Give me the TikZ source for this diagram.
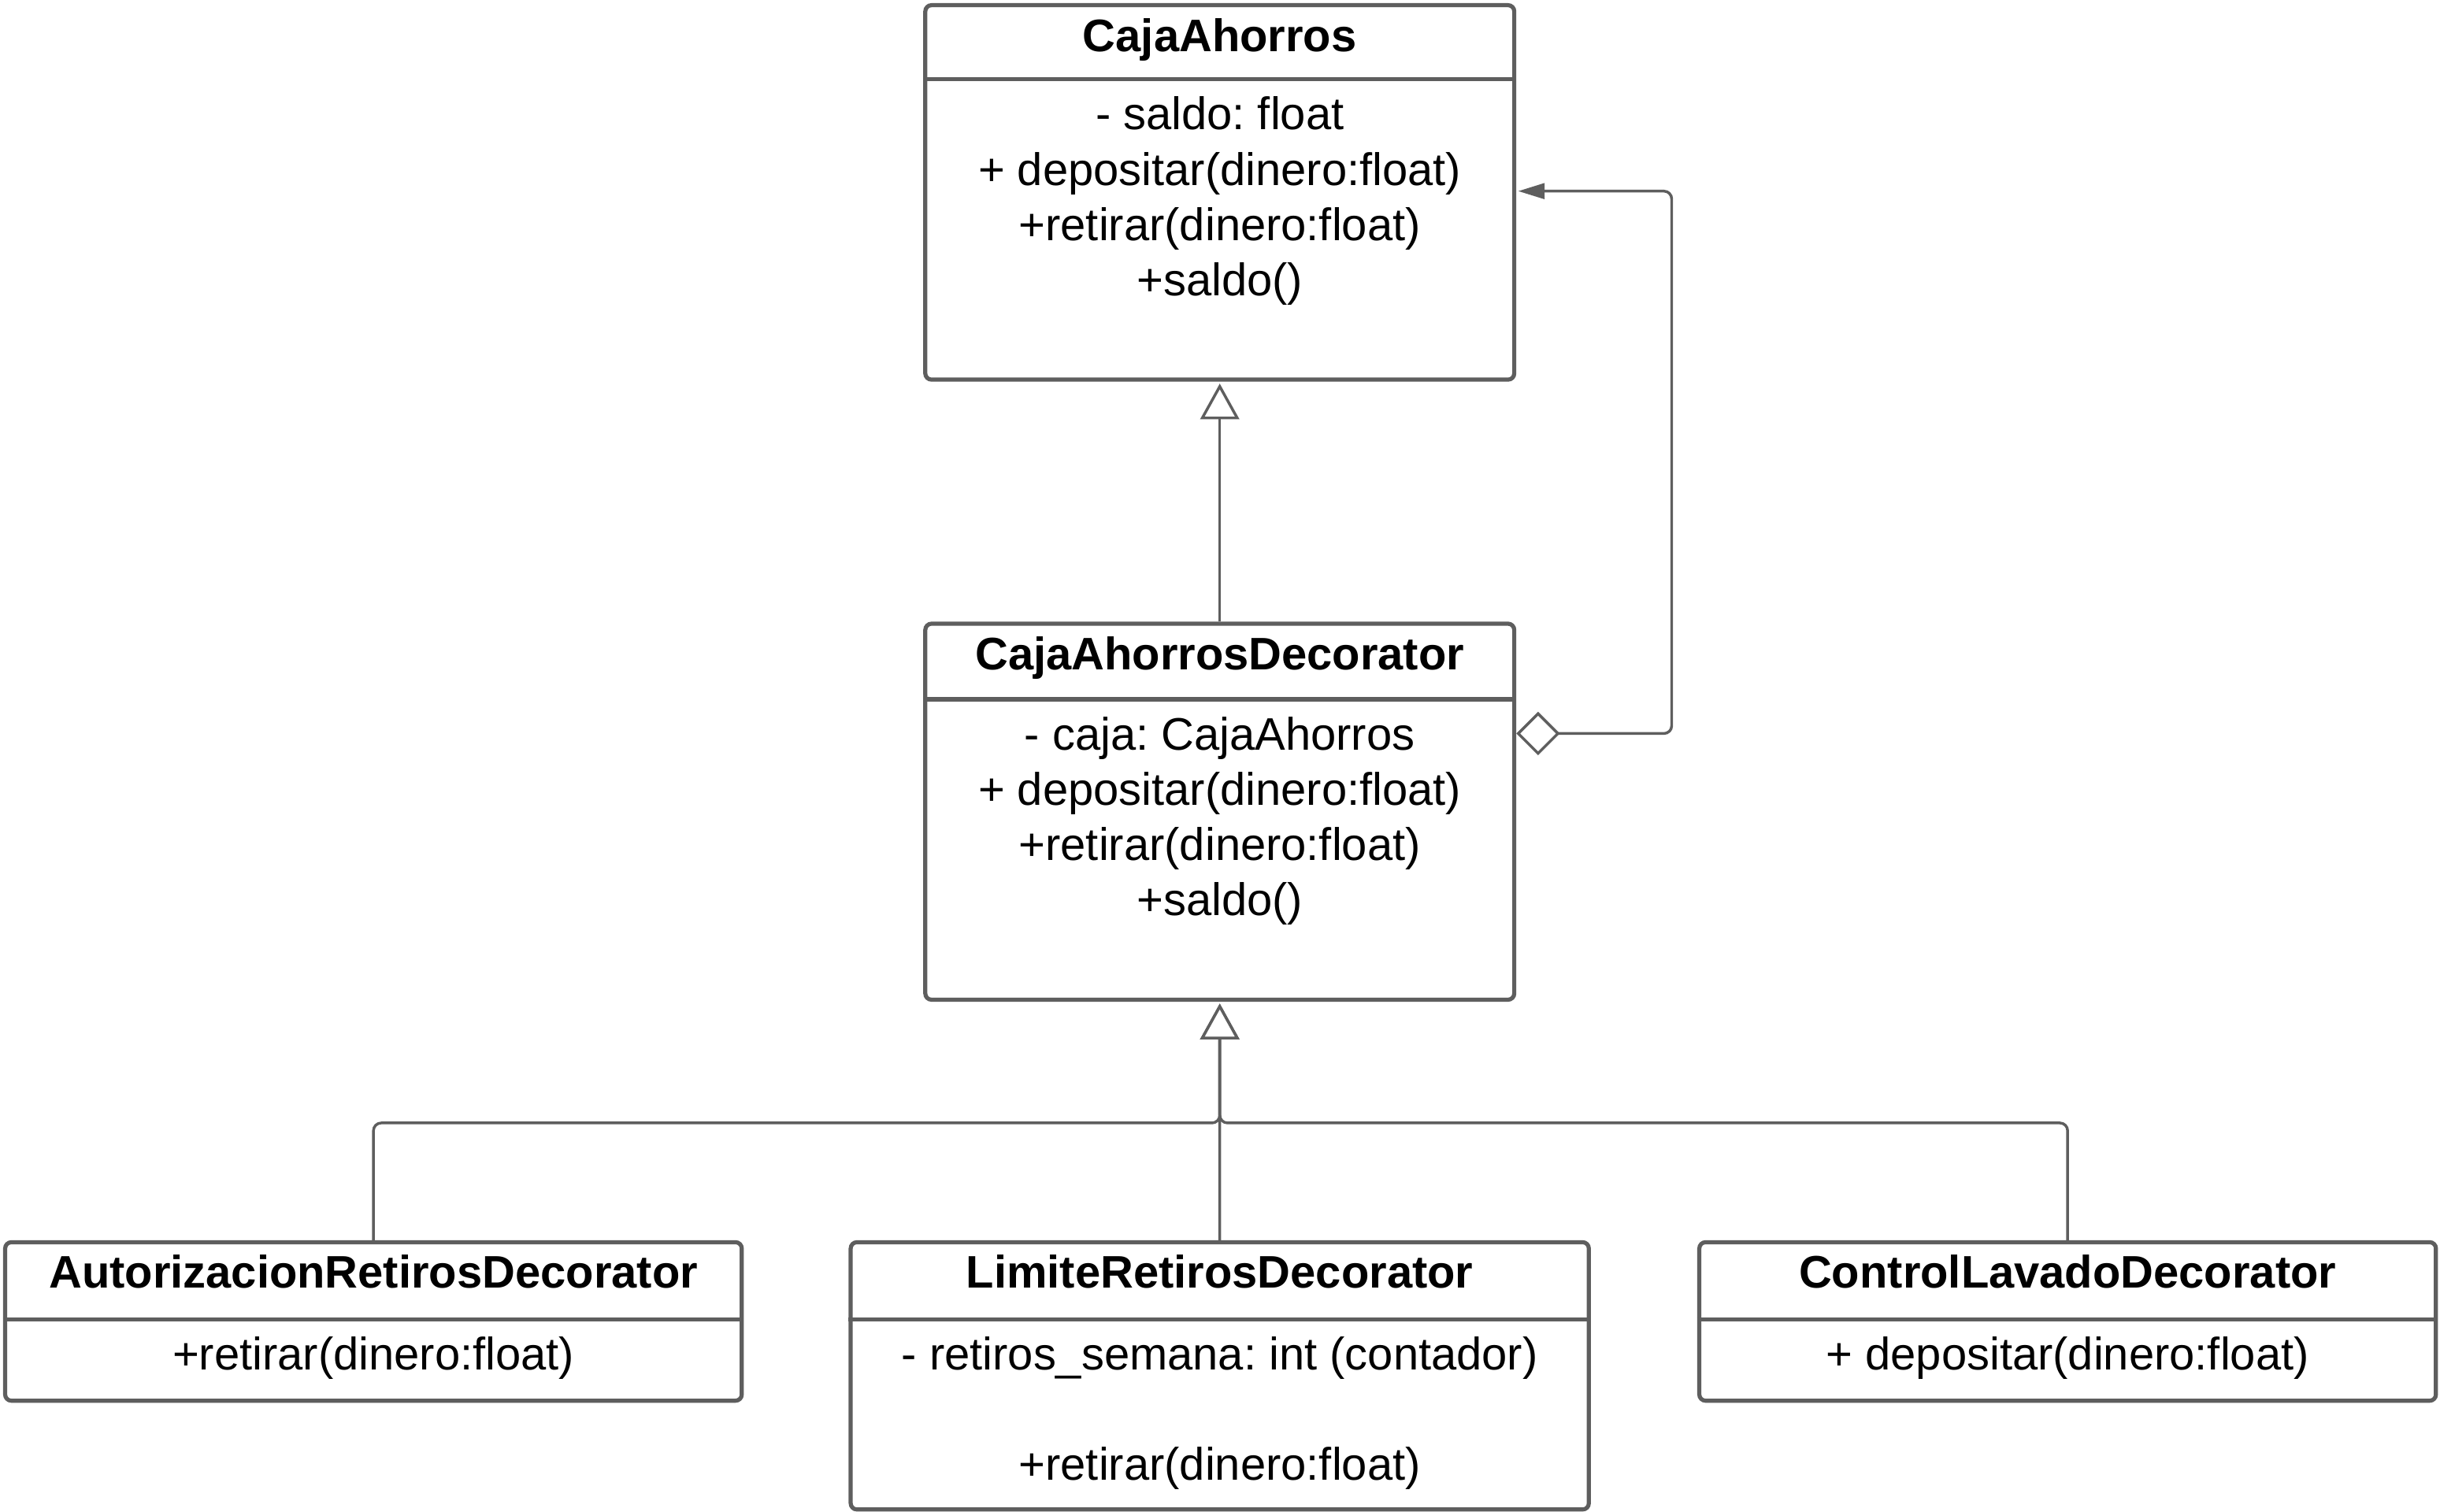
\documentclass[tikz,border=0pt]{standalone}
\usepackage{fontspec}
\setmainfont{Liberation Sans}
\usetikzlibrary{arrows.meta,positioning}
\definecolor{umlgray}{RGB}{94,94,94}
\frenchspacing

\begin{document}
\begin{tikzpicture}[x=0.02cm,y=-0.02cm,font=\fontsize{16.7}{20.2}\selectfont,
    classbox/.style={draw=umlgray,line width=1.5pt,rounded corners=0.08cm,anchor=north west,inner sep=0pt},
    classname/.style={anchor=base,font=\fontsize{16.7}{20.2}\selectfont\bfseries},
    classbody/.style={anchor=north,align=center,inner sep=0pt},
    divider/.style={draw=umlgray,line width=1.5pt},
    inherit/.style={draw=umlgray,line width=1pt,rounded corners=0.1cm,shorten >=0.7pt,-{Triangle[open,length=0.46cm,width=0.5cm,fill=white]}},
    aggr/.style={draw=umlgray,line width=1pt,rounded corners=0.1cm,shorten >=0.7pt,{Diamond[open,length=0.56cm,width=0.56cm,fill=white]}-{Triangle[length=0.34cm,width=0.2cm]}}]
        \fill[white] (0,0) rectangle (1568,972);
        % base class
        \node[classbox,minimum width=7.58cm,minimum height=4.82cm] (caja) at (594,2) {};
        \node[classname] (cajaT) at ([yshift=-0.62cm]caja.north) {CajaAhorros};
        \draw[divider] ([yshift=-0.98cm]caja.north west) -- ([yshift=-0.98cm]caja.north east);
        \node[classbody] (cajaB) at ([yshift=-1.20cm]caja.north) {- saldo: float\\+ depositar(dinero:float)\\+retirar(dinero:float)\\+saldo()};
        % decorator
        \node[classbox,minimum width=7.58cm,minimum height=4.84cm] (deco) at (594,400) {};
        \node[classname] (decoT) at ([yshift=-0.62cm]deco.north) {CajaAhorrosDecorator};
        \draw[divider] ([yshift=-1.0cm]deco.north west) -- ([yshift=-1.0cm]deco.north east);
        \node[classbody] (decoB) at ([yshift=-1.22cm]deco.north) {- caja: CajaAhorros\\+ depositar(dinero:float)\\+retirar(dinero:float)\\+saldo()};
        % concrete decorators
        \node[classbox,minimum width=9.48cm,minimum height=2.04cm] (auto) at (2,798) {};
        \node[classname] (autoT) at ([yshift=-0.62cm]auto.north) {AutorizacionRetirosDecorator};
        \draw[divider] ([yshift=-1.02cm]auto.north west) -- ([yshift=-1.02cm]auto.north east);
        \node[classbody] (autoB) at ([yshift=-1.24cm]auto.north) {+retirar(dinero:float)};
        \node[classbox,minimum width=9.50cm,minimum height=3.44cm] (limite) at (546,798) {};
        \node[classname] (limiteT) at ([yshift=-0.62cm]limite.north) {LimiteRetirosDecorator};
        \draw[divider] ([yshift=-1.02cm]limite.north west) -- ([yshift=-1.02cm]limite.north east);
        \node[classbody] (limiteB) at ([yshift=-1.24cm]limite.north) {- retiros\_semana: int (contador)\\[20.2pt]+retirar(dinero:float)};
        \node[classbox,minimum width=9.48cm,minimum height=2.04cm] (control) at (1092,798) {};
        \node[classname] (controlT) at ([yshift=-0.62cm]control.north) {ControlLavadoDecorator};
        \draw[divider] ([yshift=-1.02cm]control.north west) -- ([yshift=-1.02cm]control.north east);
        \node[classbody] (controlB) at ([yshift=-1.24cm]control.north) {+ depositar(dinero:float)};
        % relations
        \draw[inherit] (deco.north) -- (caja.south);
        \coordinate (aggS) at ([yshift=-1.44cm]deco.north east);
        \coordinate (aggT) at ([yshift=-2.42cm]caja.north east);
        \draw[aggr] (aggS) -- ++(2cm,0) |- (aggT);
        \coordinate (joint) at ([yshift=-1.56cm]deco.south);
        \draw[inherit] (auto.north) |- (joint) -- (deco.south);
        \draw[inherit] (limite.north) -- (deco.south);
        \draw[inherit] (control.north) |- (joint) -- (deco.south);
\end{tikzpicture}
\end{document}
